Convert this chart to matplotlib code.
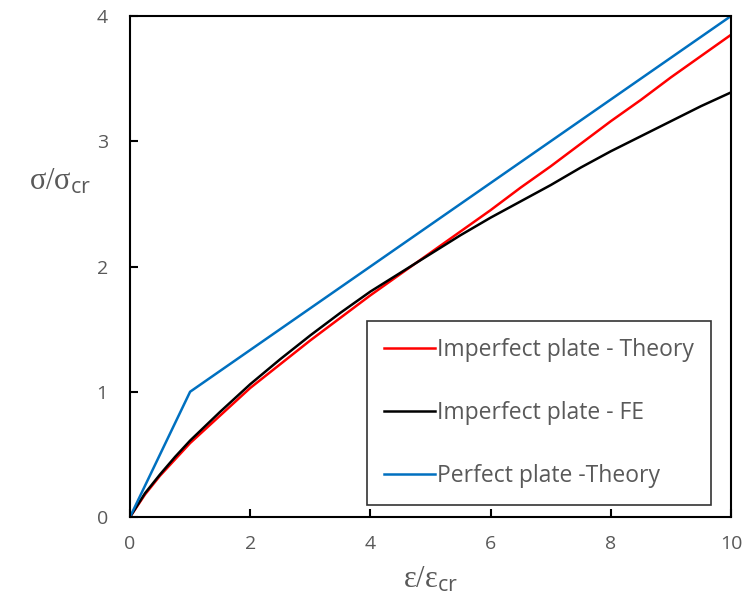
import matplotlib
matplotlib.use("Agg")
import matplotlib.pyplot as plt

x_perfect = [0, 1, 10]
y_perfect = [0, 1, 4]

x_imp = [0, 0.25, 0.5, 0.75, 1, 1.5, 2, 2.5, 3, 3.5, 4, 4.5, 5, 5.5, 6, 6.5, 7, 7.5, 8, 8.5, 9, 9.5, 10]
y_imp_theory = [0, 0.18, 0.33, 0.46, 0.59, 0.81, 1.03, 1.22, 1.41, 1.59, 1.77, 1.94, 2.11, 2.28, 2.45, 2.63, 2.80, 2.98, 3.16, 3.33, 3.51, 3.68, 3.85]
y_imp_fe = [0, 0.19, 0.34, 0.48, 0.61, 0.84, 1.06, 1.26, 1.45, 1.63, 1.80, 1.95, 2.10, 2.25, 2.39, 2.52, 2.65, 2.79, 2.92, 3.04, 3.16, 3.28, 3.39]

xticks = [0, 2, 4, 6, 8, 10]
yticks = [0, 1, 2, 3, 4]

plt.rcParams['font.family'] = ['Open Sans', 'DejaVu Sans']
plt.rcParams['mathtext.fontset'] = 'custom'
plt.rcParams['mathtext.rm'] = 'Liberation Serif'
plt.rcParams['mathtext.it'] = 'Liberation Serif'
plt.rcParams['mathtext.bf'] = 'Liberation Serif:bold'
plt.rcParams['mathtext.sf'] = 'Open Sans'

fig = plt.figure(figsize=(7.47, 6.13), dpi=100)
ax = fig.add_axes([130/747, 1-517/613, (731-130)/747, (517-16)/613])

ax.plot(x_imp, y_imp_theory, color='#ff0000', lw=1.8, label='Imperfect plate - Theory')
ax.plot(x_imp, y_imp_fe, color='#000000', lw=1.8, label='Imperfect plate - FE')
ax.plot(x_perfect, y_perfect, color='#0070c0', lw=1.8, label='Perfect plate -Theory')

ax.set_xlim(0, 10)
ax.set_ylim(0, 4)
ax.set_xticks(xticks)
ax.set_yticks(yticks)
ax.tick_params(direction='in', length=6, width=1.5, labelsize=14, labelcolor='#595959')
ax.tick_params(axis='x', pad=13)
ax.tick_params(axis='y', pad=16)
for s in ax.spines.values():
    s.set_linewidth(1.5)

ax.set_xlabel(r'$\mathrm{ε/ε}_{\mathsf{cr}}$', fontsize=22, color='#595959', labelpad=8)
ax.set_ylabel(r'$\mathrm{σ/σ}_{\mathsf{cr}}$', fontsize=22, color='#595959', rotation=0,
              ha='center', va='center')
ax.yaxis.set_label_coords(-0.116, 0.67)

leg = ax.legend(loc='lower right', bbox_to_anchor=(711/747, 1-505/613), bbox_transform=fig.transFigure,
                fontsize=16.5, frameon=True, fancybox=False, edgecolor='black', handlelength=2.2,
                handletextpad=0.1, labelspacing=1.7, borderpad=0.75, borderaxespad=0)
leg.get_frame().set_linewidth(1.2)
for t in leg.get_texts():
    t.set_color('#595959')

fig.savefig('out.png', dpi=100)
